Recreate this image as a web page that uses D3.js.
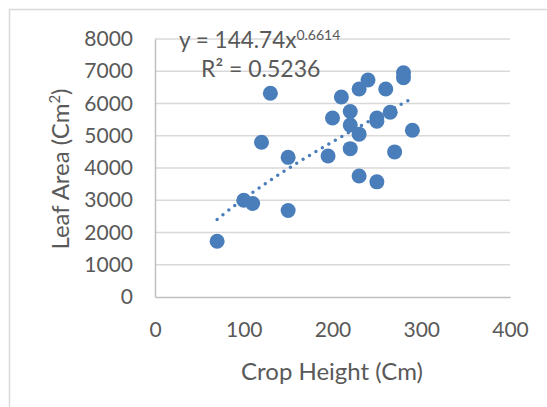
<!DOCTYPE html>
<html><head><meta charset="utf-8">
<script src="https://cdn.jsdelivr.net/npm/d3@7"></script>
<style>
html,body{margin:0;padding:0;background:#fff;}
svg{display:block;}
text{font-family:Lato,"Open Sans",sans-serif;fill:#595959;}
</style></head>
<body>
<script>
const cropHeight = [70,100,110,120,130,150,150,195,200,210,220,220,220,230,230,230,240,250,250,250,260,265,270,280,280,290];
const leafArea   = [1730,3000,2900,4800,6320,2680,4330,4370,5550,6200,5750,5330,4600,6450,5050,3750,6730,5550,5450,3570,6450,5730,4500,6950,6800,5170];
const xTicks = [0,100,200,300,400];
const yTicks = [0,1000,2000,3000,4000,5000,6000,7000,8000];
const fitA = 144.74, fitB = 0.6614;
const eqLabel = "y = 144.74x", eqExp = "0.6614", r2Label = "R² = 0.5236";
const xTitle = "Crop Height (Cm)", yTitle = "Leaf Area (Cm", yTitleSup = "2", yTitleEnd = ")";

const W = 547, H = 407;
const svg = d3.select("body").append("svg").attr("width", W).attr("height", H);
svg.append("rect").attr("width", W).attr("height", H).attr("fill", "#fff");
// chart area border
svg.append("path").attr("d", `M9.5,${H+2}V9.5H${W+2}`).attr("fill","none").attr("stroke","#d9d9d9").attr("stroke-width",1.5);

const plot = {l:155, r:510, t:39, b:297};
const x = d3.scaleLinear().domain([0,400]).range([plot.l, plot.r]);
const y = d3.scaleLinear().domain([0,8000]).range([plot.b, plot.t]);

// gridlines
svg.append("g").selectAll("line").data(yTicks.filter(d=>d>0)).join("line")
  .attr("x1", plot.l).attr("x2", plot.r)
  .attr("y1", d=>y(d)).attr("y2", d=>y(d))
  .attr("stroke","#d9d9d9").attr("stroke-width",1.5);

// axes
const yAxis = svg.append("g").attr("transform",`translate(${plot.l},0)`)
  .call(d3.axisLeft(y).tickValues(yTicks).tickSize(0).tickPadding(22).tickFormat(d3.format("d")));
const xAxis = svg.append("g").attr("transform",`translate(0,${plot.b})`)
  .call(d3.axisBottom(x).tickValues(xTicks).tickSize(0).tickPadding(25).tickFormat(d3.format("d")));
[xAxis,yAxis].forEach(g=>{
  g.select(".domain").attr("stroke","#bfbfbf").attr("stroke-width",1.5);
  g.selectAll("text").style("font-size","21px").attr("fill","#595959");
});

// trendline (power)
const xmin = d3.min(cropHeight), xmax = d3.max(cropHeight);
const fitPts = d3.range(0, 101).map(i => { const xv = xmin + (xmax-xmin)*i/100; return [xv, fitA*Math.pow(xv, fitB)]; });
svg.append("path").datum(fitPts)
  .attr("d", d3.line().x(d=>x(d[0])).y(d=>y(d[1])))
  .attr("fill","none").attr("stroke","#4a7ebb").attr("stroke-width",3.5)
  .attr("stroke-linecap","round").attr("stroke-dasharray","0 7.5");

// points
svg.append("g").selectAll("circle").data(cropHeight.map((c,i)=>[c, leafArea[i]])).join("circle")
  .attr("cx", d=>x(d[0])).attr("cy", d=>y(d[1])).attr("r", 7.5)
  .attr("fill","#4a7ebb");

// equation
const eq = svg.append("text").attr("x", 179).attr("y", 48).style("font-size","22.5px");
eq.append("tspan").text(eqLabel);
eq.append("tspan").attr("dy",-8).style("font-size","14px").text(eqExp);
svg.append("text").attr("x", 201).attr("y", 77).style("font-size","23px").text(r2Label);

// axis titles
svg.append("text").attr("x", 332).attr("y", 380).attr("text-anchor","middle").style("font-size","24px").text(xTitle);
const yt = svg.append("text").attr("transform","translate(69,169) rotate(-90)").attr("text-anchor","middle").style("font-size","24px");
yt.append("tspan").text(yTitle);
yt.append("tspan").attr("dy",-9).style("font-size","15px").text(yTitleSup);
yt.append("tspan").attr("dy",9).text(yTitleEnd);
</script>
</body></html>
